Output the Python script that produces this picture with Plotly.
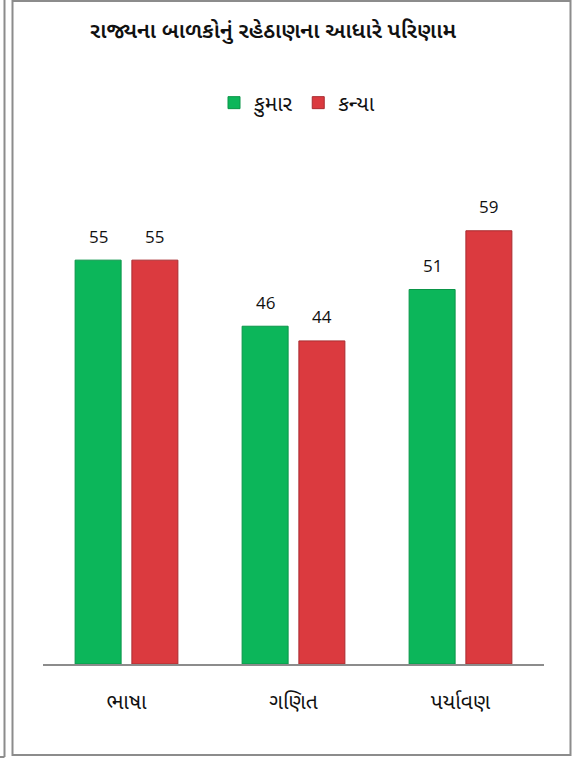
import plotly.graph_objects as go

categories = ["ભાષા", "ગણિત", "પર્યાવણ"]
boys = [55, 46, 51]
girls = [55, 44, 59]
series_names = ["કુમાર", "કન્યા"]
title_text = "રાજ્યના બાળકોનું રહેઠાણના આધારે પરિણામ"

W, H = 572, 760
ML, MR, MT, MB = 43, 28, 150, 96
PW, PH = W - ML - MR, H - MT - MB

def px(x):
    return (x - ML) / PW

def py(y):
    return (H - MB - y) / PH

FONT = "Noto Sans Gujarati, Noto Sans, Lato, sans-serif"
NUMFONT = "Open Sans, Noto Sans, sans-serif"
BARGAP = 0.32
GROUPGAP = 0.19
colors = ["#0CB65A", "#DB3A3F"]
edges = ["#0A9548", "#A92C30"]

fig = go.Figure()
for name, vals, c, e in zip(series_names, [boys, girls], colors, edges):
    fig.add_trace(go.Bar(
        x=categories, y=vals, name=name,
        marker=dict(color=c, line=dict(color=e, width=1)),
    ))

# data labels above bars
slot_px = PW / len(categories) * (1 - BARGAP) / 2
annotations = []
for i, vals in enumerate([boys, girls]):
    shift = (i - 0.5) * slot_px
    for cat, v in zip(categories, vals):
        annotations.append(dict(
            x=cat, y=v, xref="x", yref="y", text=str(v), showarrow=False,
            xshift=shift, yshift=24, yanchor="middle", xanchor="center",
            font=dict(family=NUMFONT, size=17, color="#111111"),
        ))

shapes = []
grey = "#8C8C8C"
shapes.append(dict(type="rect", xref="paper", yref="paper",
                   x0=px(12.5), x1=px(570.5), y0=py(755), y1=py(1),
                   line=dict(color=grey, width=2), fillcolor="rgba(0,0,0,0)", layer="below"))
shapes.append(dict(type="line", xref="paper", yref="paper",
                   x0=px(4.5), x1=px(4.5), y0=py(757), y1=py(0),
                   line=dict(color=grey, width=2)))
shapes.append(dict(type="line", xref="paper", yref="paper",
                   x0=px(0), x1=px(4.5), y0=py(757), y1=py(757),
                   line=dict(color=grey, width=2)))

fig.update_layout(
    width=W, height=H,
    margin=dict(l=ML, r=MR, t=MT, b=MB),
    paper_bgcolor="white", plot_bgcolor="white",
    barmode="group", bargap=BARGAP, bargroupgap=GROUPGAP,
    title=dict(text=title_text, x=px(273), xref="paper", xanchor="center",
               y=1 - 30 / H, yanchor="middle",
               font=dict(family=FONT, size=22, color="#111111", weight=600)),
    legend=dict(orientation="h", x=px(297), xref="paper", xanchor="center",
                y=py(103), yanchor="middle",
                font=dict(family=FONT, size=21, color="#111111"),
                itemwidth=30, tracegroupgap=0),
    font=dict(family=FONT, color="#111111"),
    xaxis=dict(showline=True, linecolor="#8C8C8C", linewidth=1.5,
               ticks="", tickfont=dict(family=FONT, size=21, color="#111111"),
               ticklabelstandoff=18, showgrid=False),
    yaxis=dict(range=[0, 70], visible=False, showgrid=False),
    shapes=shapes,
    annotations=annotations,
    showlegend=True,
)

fig.write_html("out.html", config={"displayModeBar": False},
               post_script="document.body.style.margin='0';document.body.style.padding='0';")
